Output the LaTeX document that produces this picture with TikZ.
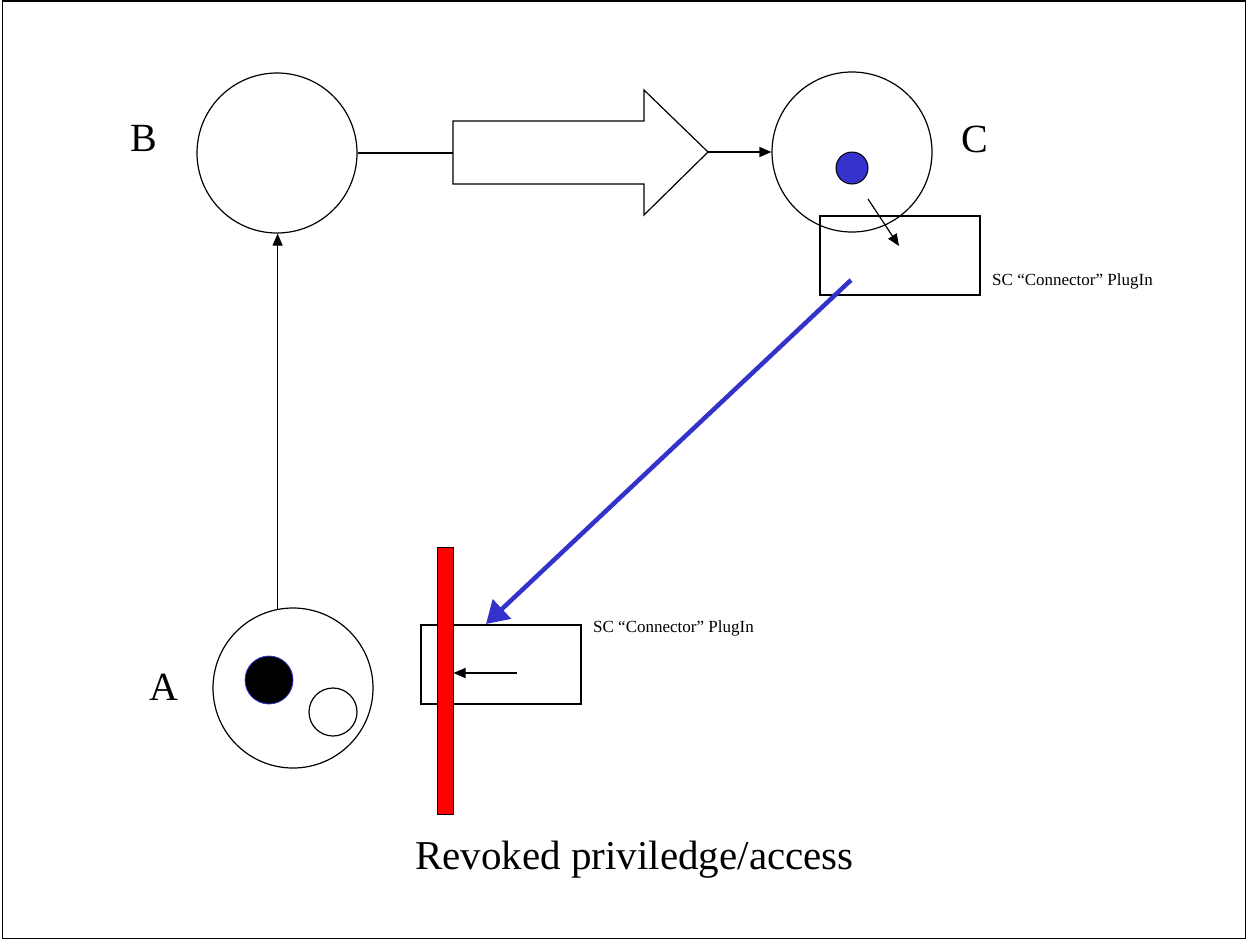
\documentclass[tikz,border=0pt]{standalone}
\usepackage{fontspec}
\setmainfont{Liberation Serif}
\usetikzlibrary{arrows.meta}
\definecolor{tokenblue}{RGB}{51,51,204}
\definecolor{barred}{RGB}{255,0,0}
\begin{document}
\begin{tikzpicture}[x=1pt,y=-1pt,
  place/.style={draw,circle,line width=1.2pt,minimum size=160pt,inner sep=0pt},
  token/.style={circle,minimum size=48pt,inner sep=0pt},
  plugbox/.style={draw,rectangle,line width=1.2pt,minimum width=160pt,minimum height=79pt,inner sep=0pt},
  flow/.style={line width=1.2pt,-{Triangle[length=12pt,width=10pt]}},
  bigletter/.style={font=\fontsize{40}{48}\selectfont,anchor=base,inner sep=0pt},
  smalltext/.style={font=\fontsize{17}{20}\selectfont,anchor=base west,inner sep=0pt},
  revoke/.style={line width=4.5pt,draw=tokenblue,-{Triangle[length=22pt,width=26pt]}}
]
\useasboundingbox (0,0) rectangle (1247,940);
\draw[line width=1.6pt] (2.5,1) rectangle (1245.5,938.5);

% places
\node[place] (B) at (277,153) {};
\node[place] (C) at (852,152) {};
\node[place] (A) at (293,688) {};

% tokens
\node[token,fill=tokenblue,draw=black,line width=1pt,minimum size=32pt] (ctok) at (852,168) {};
\node[token,fill=black,draw=tokenblue,line width=0.8pt] (atok) at (269,680) {};
\node[token,draw=black,line width=1.2pt] (aempty) at (333,712) {};

% labels
\node[bigletter] (lB) at (143.5,151) {B};
\node[bigletter] (lC) at (974.5,152) {C};
\node[bigletter] (lA) at (163.5,700) {A};

% block arrow between B and C
\coordinate (bl) at (453,153);
\coordinate (bt) at (708,152);
\draw[line width=1.2pt,fill=white]
  (453,121) -- (644,121) -- (644,90) -- (bt) -- (644,215) -- (644,184) -- (453,184) -- cycle;
\draw[line width=1.2pt] (B.east) -- (bl);
\draw[flow] (bt) -- (C.west);

% A to B
\draw[flow] (A.101.6) -- (A.101.6 |- B.south);

% plug-ins
\node[plugbox] (p1) at (900,255.5) {};
\node[plugbox] (p2) at (501,664.5) {};
\node[smalltext] (t1) at (992,285.5) {SC “Connector” PlugIn};
\node[smalltext] (t2) at (593,632) {SC “Connector” PlugIn};

% token leaving C into the plug-in
\coordinate (m1) at (868,199);
\coordinate (m2) at (899,246);
\draw[flow] (m1) -- (m2);

% revocation bar
\node[draw=black,fill=barred,line width=1pt,minimum width=16pt,minimum height=267pt,inner sep=0pt] (bar) at (445,680.5) {};
\coordinate (m3) at (517,673);
\draw[flow] (m3) -- (bar.east |- m3);

% revocation path
\coordinate (r1) at (851,280);
\coordinate (r2) at (486,624);
\draw[revoke] (r1) -- (r2);

\node[font=\fontsize{41}{48}\selectfont,anchor=base,inner sep=0pt] (caption) at (634.5,869) {Revoked priviledge/access};
\end{tikzpicture}
\end{document}
